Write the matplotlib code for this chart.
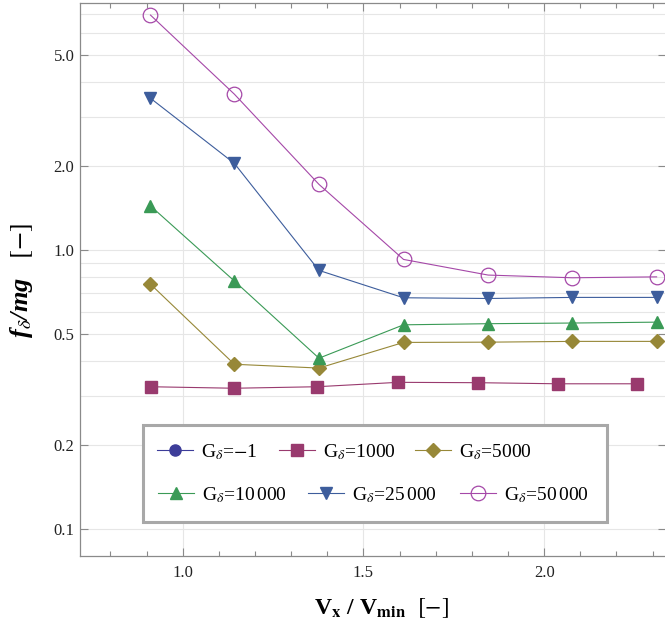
import numpy as np
import matplotlib
matplotlib.use('Agg')
import matplotlib.pyplot as plt
from matplotlib.ticker import FixedLocator, NullFormatter, StrMethodFormatter
from matplotlib.patches import Rectangle
from matplotlib.legend import Legend

plt.rcParams['font.family'] = ['Liberation Serif', 'DejaVu Serif']
plt.rcParams['mathtext.fontset'] = 'stix'

# Data -------------------------------------------------------------
x_speed = [0.911, 1.143, 1.377, 1.611, 1.845, 2.078, 2.311] # V_x / V_min
x_speed_1000 = [0.912, 1.143, 1.371, 1.596, 1.817, 2.038, 2.257] # squares sit a bit left

f_m1 = [] # G=-1 : no point inside the plotted range
f_1000 = [0.324, 0.320, 0.324, 0.336, 0.335, 0.332, 0.332]
f_5000 = [0.755, 0.390, 0.378, 0.467, 0.468, 0.471, 0.471]
f_10000 = [1.44, 0.775, 0.410, 0.540, 0.545, 0.548, 0.552]
f_25000 = [3.50, 2.045, 0.846, 0.675, 0.671, 0.677, 0.677]
f_50000 = [6.95, 3.62, 1.72, 0.926, 0.814, 0.796, 0.802]

labels = [r'G$_\delta$=$-$1', r'G$_\delta$=1000', r'G$_\delta$=5000',
          r'G$_\delta$=10$\,$000', r'G$_\delta$=25$\,$000', r'G$_\delta$=50$\,$000']

yticks = [0.1, 0.2, 0.5, 1.0, 2.0, 5.0]
yminor = [0.3, 0.4, 0.6, 0.7, 0.8, 0.9, 3, 4, 6, 7]
xticks = [1.0, 1.5, 2.0]

# Colours (old Mathematica palette) --------------------------------
c_m1 = '#3d3d99'
c_1000 = '#993a6e'
c_5000 = '#978838'
c_10000 = '#3a9a56'
c_25000 = '#3d5d9c'
c_50000 = '#a548a8'

# Figure -----------------------------------------------------------
W, H = 665, 634
fig = plt.figure(figsize=(W/100, H/100), dpi=100)
ax = fig.add_axes([80/W, 1-556/H, 586/W, 552.7/H])

lw = 0.8
h_m1, = ax.plot(f_m1, f_m1, '-o', color=c_m1, lw=lw, ms=8)
h_1000, = ax.plot(x_speed_1000, f_1000, '-s', color=c_1000, lw=lw, ms=8.2)
h_5000, = ax.plot(x_speed, f_5000, '-D', color=c_5000, lw=lw, ms=7.3)
h_10000, = ax.plot(x_speed, f_10000, '-^', color=c_10000, lw=lw, ms=8.5)
h_25000, = ax.plot(x_speed, f_25000, '-v', color=c_25000, lw=lw, ms=8.5)
h_50000, = ax.plot(x_speed, f_50000, '-o', color=c_50000, lw=lw, ms=10.5,
                   mfc='none', mew=0.9)

ax.set_yscale('log')
ax.set_xlim(0.716, 2.337)
ax.set_ylim(0.0802, 7.66)

# Axes, ticks and grid ---------------------------------------------
ax.yaxis.set_major_locator(FixedLocator(yticks))
ax.yaxis.set_major_formatter(StrMethodFormatter('{x:.1f}'))
ax.yaxis.set_minor_locator(FixedLocator(yminor))
ax.yaxis.set_minor_formatter(NullFormatter())
ax.xaxis.set_major_locator(FixedLocator(xticks))
ax.xaxis.set_major_formatter(StrMethodFormatter('{x:.1f}'))
ax.xaxis.set_minor_locator(FixedLocator(np.arange(0.8, 2.35, 0.1)))

ax.grid(True, which='major', color='#e6e6e6', lw=0.8)
ax.grid(True, which='minor', axis='y', color='#e6e6e6', lw=0.8)
ax.set_axisbelow(True)

ax.tick_params(which='both', direction='in', top=True, right=True, color='#8a8a8a',
               labelsize=12, labelcolor='#222222')
ax.tick_params(which='major', length=6, width=0.8)
ax.tick_params(axis='x', which='minor', length=3.5, width=0.8)
ax.tick_params(axis='y', which='minor', length=0)
ax.tick_params(axis='x', pad=6.5)
ax.tick_params(axis='y', pad=4)
for s in ax.spines.values():
    s.set_color('#8a8a8a')
    s.set_linewidth(0.9)

# Axis labels ------------------------------------------------------
fig.text(381/W, 1-608/H, r'V$_{\mathbf{x}}$ / V$_{\mathbf{min}}$  $\mathrm{[-]}$',
         ha='center', va='center', fontsize=17, fontweight='bold')
fig.text(22/W, 1-280/H, r'f$_\delta$/mg   $\mathrm{[-]}$', rotation=90,
         ha='center', va='center', fontsize=19, fontweight='bold', fontstyle='italic')

# Legend: framed box with entries placed like the original -----------
box = Rectangle((143/W, 1-522/H), 464/W, 97/H, transform=fig.transFigure,
                facecolor='white', edgecolor='#a8a8a8', lw=2.2, zorder=4)
ax.add_patch(box)

handles = [h_m1, h_1000, h_5000, h_10000, h_25000, h_50000]
spots = [(157, 452), (279, 452), (415, 452), (158, 495), (308, 495), (460, 495)]
for h, lab, (px, py) in zip(handles, labels, spots):
    leg = Legend(ax, [h], [lab], loc='center left', bbox_to_anchor=(px/W, 1-py/H),
                 bbox_transform=fig.transFigure, frameon=False, borderpad=0,
                 borderaxespad=0, handlelength=1.85, handletextpad=0.4,
                 fontsize=14)
    leg.set_zorder(5)
    ax.add_artist(leg)

fig.savefig('out.png', dpi=100)
